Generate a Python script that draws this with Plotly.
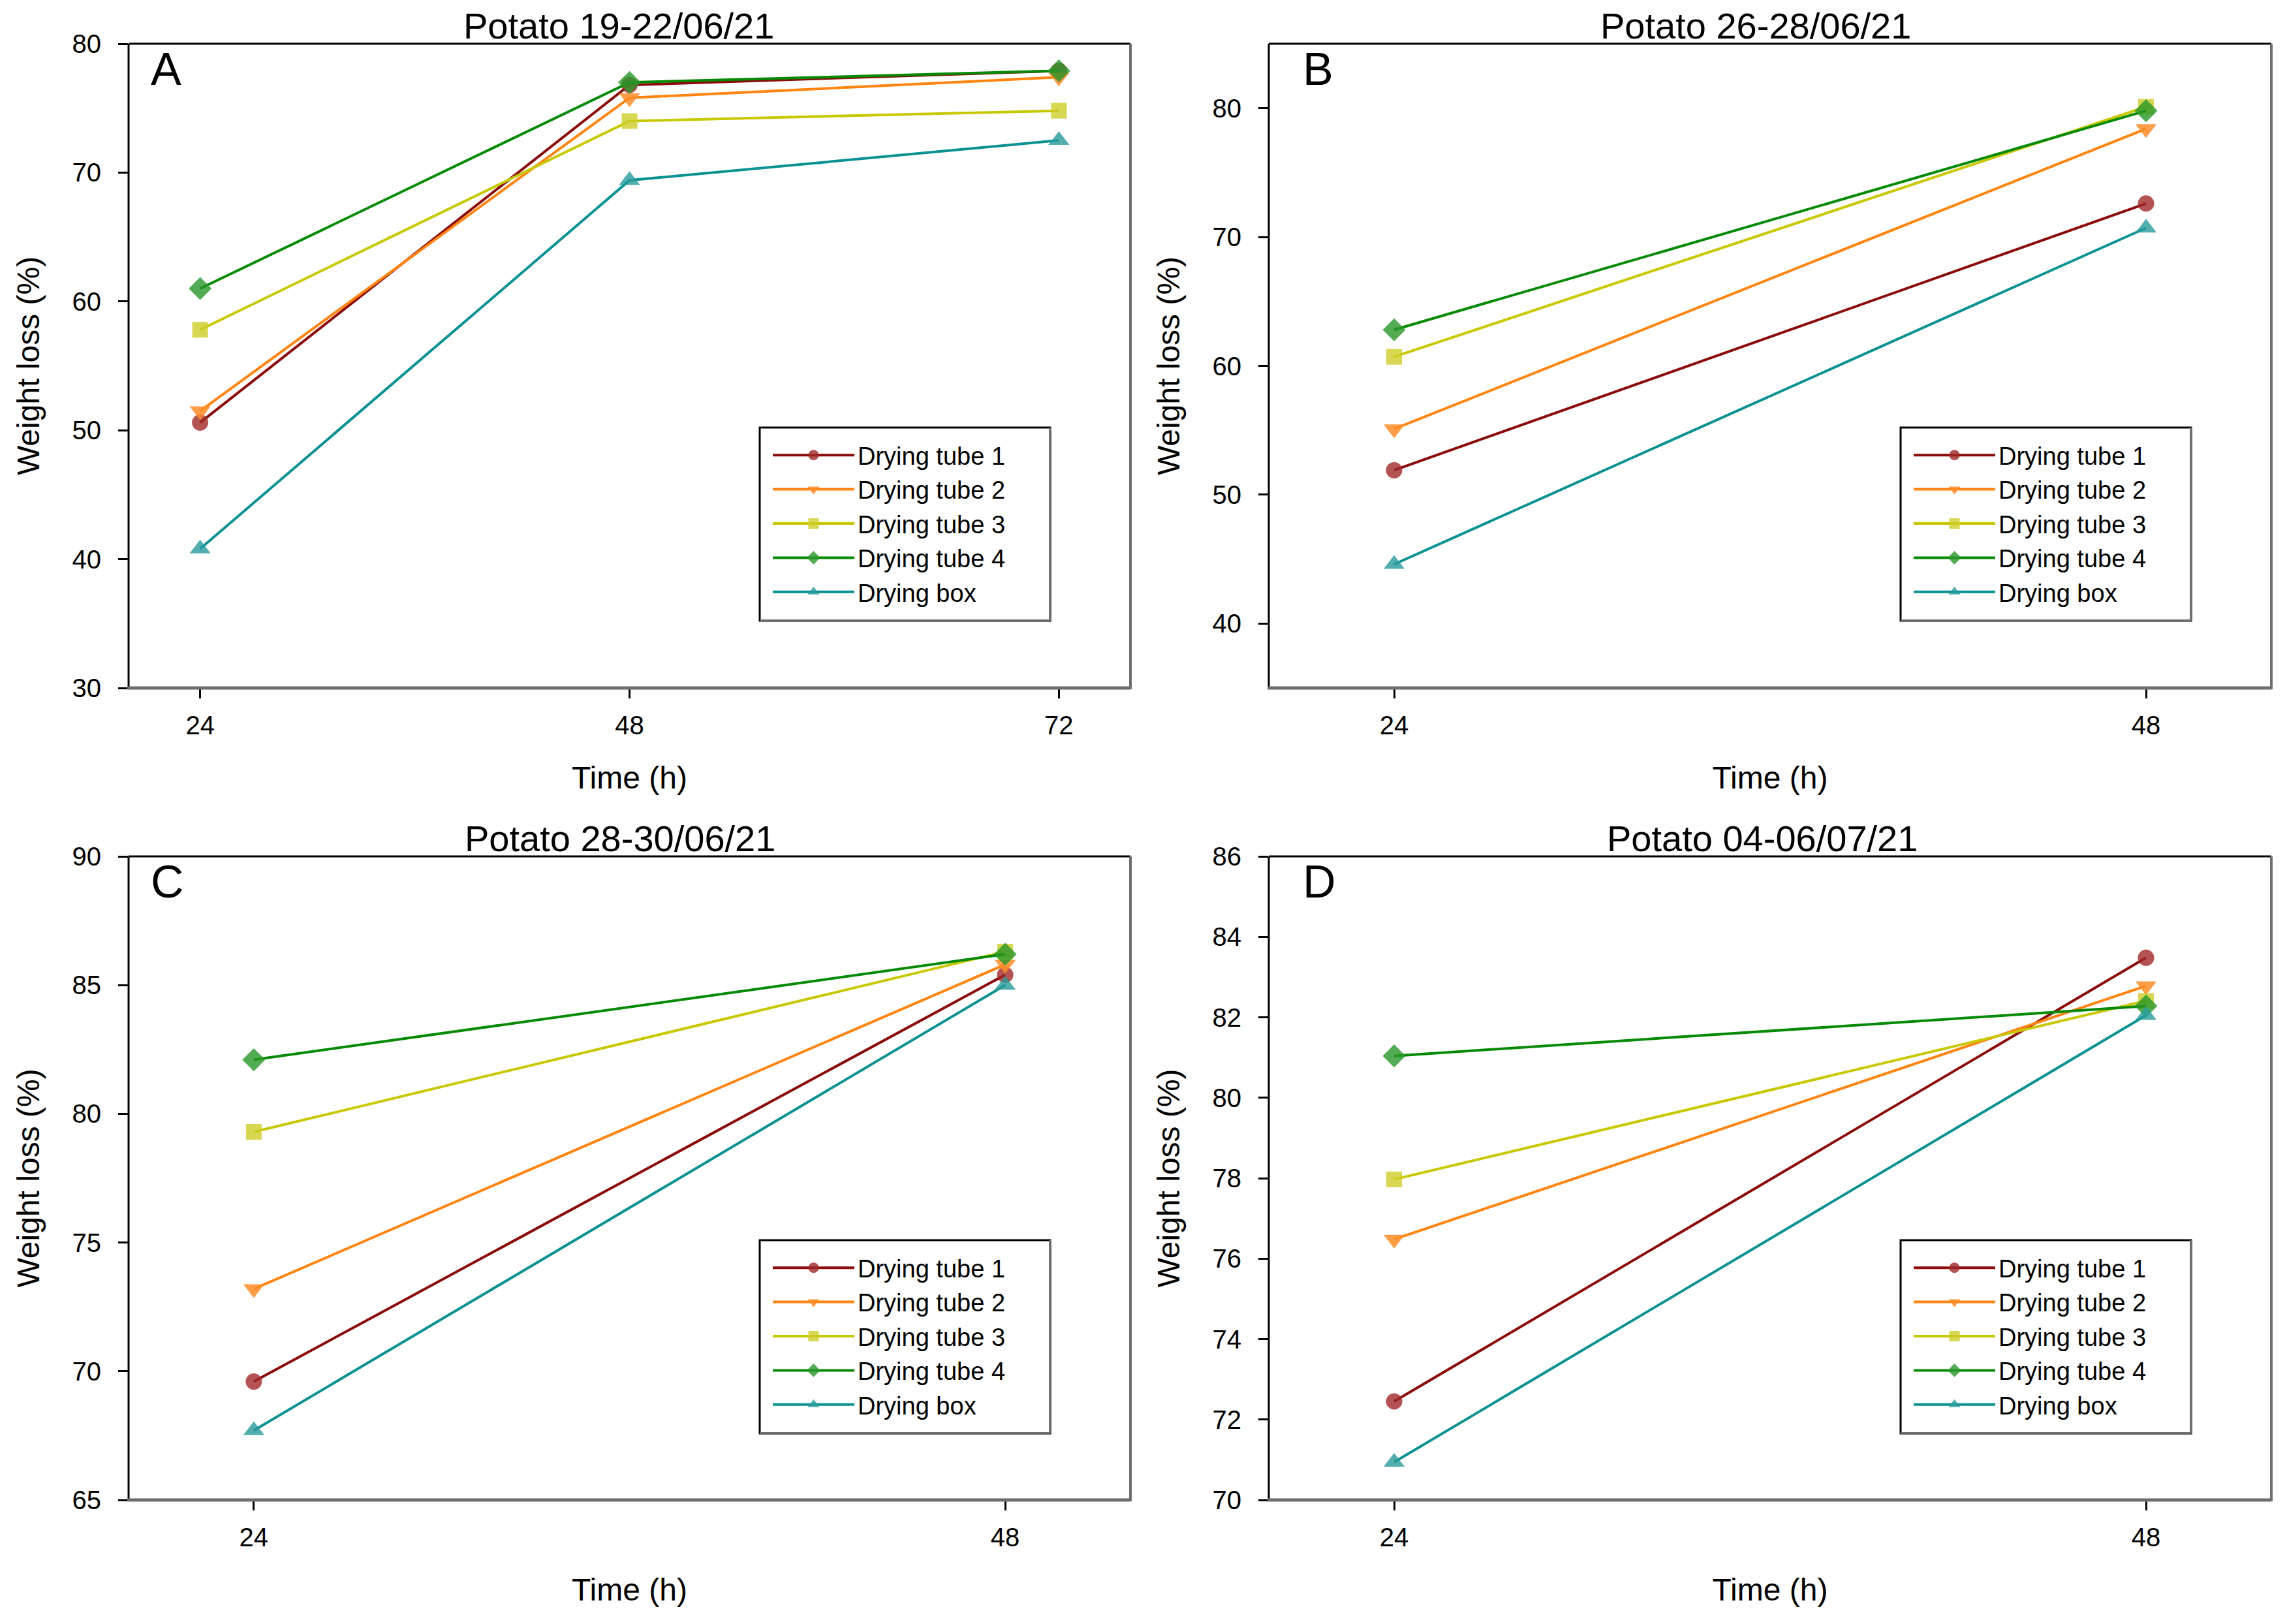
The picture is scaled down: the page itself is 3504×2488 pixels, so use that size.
import plotly.graph_objects as go

# ---------------- data ----------------
series_names = ["Drying tube 1", "Drying tube 2", "Drying tube 3", "Drying tube 4", "Drying box"]

times_a = [24, 48, 72]
times_bcd = [24, 48]

panel_a_values = [
    [50.6, 76.8, 77.9],
    [51.5, 75.8, 77.4],
    [57.8, 74.0, 74.8],
    [61.0, 77.0, 77.9],
    [40.8, 69.4, 72.5],
]
panel_b_values = [
    [51.9, 72.6],
    [55.1, 78.4],
    [60.7, 80.1],
    [62.8, 79.8],
    [44.6, 70.7],
]
panel_c_values = [
    [69.6, 85.4],
    [73.2, 85.8],
    [79.3, 86.3],
    [82.1, 86.2],
    [67.7, 85.0],
]
panel_d_values = [
    [72.45, 83.48],
    [76.48, 82.78],
    [77.97, 82.41],
    [81.04, 82.28],
    [70.94, 82.05],
]

panel_titles = ["Potato 19-22/06/21", "Potato 26-28/06/21", "Potato 28-30/06/21", "Potato 04-06/07/21"]
panel_letters = ["A", "B", "C", "D"]
x_tick_labels_a = ["24", "48", "72"]
x_tick_labels_bcd = ["24", "48"]

# ---------------- styling ----------------
W, H = 3504, 2488
OFF = 8  # page body margin of the html page
FONT = "Liberation Sans, Arial, Helvetica, sans-serif"
line_colors = ["#8b0a0a", "#ff8410", "#c8c800", "#058a05", "#0a9191"]
marker_colors = ["rgba(160,40,40,0.8)", "rgba(255,140,40,0.85)", "rgba(205,205,40,0.8)",
                 "rgba(40,150,40,0.8)", "rgba(40,155,155,0.8)"]
symbols = ["circle", "triangle-down", "square", "diamond", "triangle-up"]
marker_sizes = [25, 28, 24, 27, 28]

# plot areas in screen pixels: (left, right, top, bottom)
areas = [
    (197, 1732, 67, 1054),
    (1944, 3480, 67, 1054),
    (197, 1732, 1312, 2298),
    (1944, 3480, 1312, 2298),
]
legend_boxes = [
    (1164, 1609, 655, 951),
    (2912, 3357, 655, 951),
    (1164, 1609, 1900, 2196),
    (2912, 3357, 1900, 2196),
]
title_x = [948, 2690, 950, 2700]
letter_dx = [32, 50, 32, 50]

x_ranges = [[20, 76], [20, 52], [20, 52], [20, 52]]
y_ranges = [[30, 80], [35, 85], [65, 90], [70, 86]]
y_dticks = [10, 10, 5, 2]
y_tick0 = [30, 40, 65, 70]


def px(x):
    return (x - OFF) / W


def py(y):
    return 1 - (y - OFF) / H


fig = go.Figure()

panels = [
    (times_a, panel_a_values, x_tick_labels_a),
    (times_bcd, panel_b_values, x_tick_labels_bcd),
    (times_bcd, panel_c_values, x_tick_labels_bcd),
    (times_bcd, panel_d_values, x_tick_labels_bcd),
]

shapes = []
annotations = []
layout_axes = {}

for k, (times, values, xtl) in enumerate(panels):
    idx = "" if k == 0 else str(k + 1)
    leg = "legend" + idx
    for s, name in enumerate(series_names):
        fig.add_trace(go.Scatter(
            x=times, y=values[s], name=name, mode="lines+markers",
            xaxis="x" + idx, yaxis="y" + idx, legend=leg,
            line=dict(color=line_colors[s], width=4),
            marker=dict(symbol=symbols[s], size=marker_sizes[s], color=marker_colors[s],
                        line=dict(width=0)),
        ))
    l, r, t, b = areas[k]
    layout_axes["xaxis" + idx] = dict(
        domain=[px(l), px(r)], anchor="y" + idx, range=x_ranges[k],
        tickmode="array", tickvals=times, ticktext=xtl,
        ticks="outside", ticklen=15, tickwidth=3, tickcolor="black",
        showgrid=False, zeroline=False, showline=False, automargin=False,
        tickfont=dict(family=FONT, size=40, color="black"),
        ticklabelstandoff=7,
        title=dict(text="Time (h)", font=dict(family=FONT, size=48, color="black"), standoff=42),
    )
    layout_axes["yaxis" + idx] = dict(
        domain=[py(b), py(t)], anchor="x" + idx, range=y_ranges[k],
        tick0=y_tick0[k], dtick=y_dticks[k],
        ticks="outside", ticklen=15, tickwidth=3, tickcolor="black",
        showgrid=False, zeroline=False, showline=False, automargin=False,
        tickfont=dict(family=FONT, size=40, color="black"),
        ticklabelstandoff=18,
        title=dict(text="Weight loss (%)", font=dict(family=FONT, size=48, color="black"), standoff=34),
    )
    # frame: top/left black, bottom/right grey
    shapes += [
        dict(type="line", xref="paper", yref="paper", x0=px(l), x1=px(r), y0=py(t), y1=py(t),
             line=dict(color="black", width=3)),
        dict(type="line", xref="paper", yref="paper", x0=px(l), x1=px(l), y0=py(t), y1=py(b),
             line=dict(color="black", width=3)),
        dict(type="line", xref="paper", yref="paper", x0=px(l - 2), x1=px(r), y0=py(b), y1=py(b),
             line=dict(color="#6e6e6e", width=5)),
        dict(type="line", xref="paper", yref="paper", x0=px(r), x1=px(r), y0=py(t), y1=py(b + 2),
             line=dict(color="#6e6e6e", width=4)),
    ]
    # legend box
    bl, br, bt, bb = legend_boxes[k]
    shapes += [
        dict(type="rect", xref="paper", yref="paper", x0=px(bl), x1=px(br), y0=py(bb), y1=py(bt),
             line=dict(color="black", width=3), fillcolor="white", layer="below"),
        dict(type="line", xref="paper", yref="paper", x0=px(bl), x1=px(br), y0=py(bb), y1=py(bb),
             line=dict(color="#6e6e6e", width=4)),
        dict(type="line", xref="paper", yref="paper", x0=px(br), x1=px(br), y0=py(bt), y1=py(bb),
             line=dict(color="#6e6e6e", width=4)),
    ]
    layout_axes[leg] = dict(
        x=px(bl + 15), y=py(bt + 11), xanchor="left", yanchor="top",
        bgcolor="rgba(0,0,0,0)", borderwidth=0, itemwidth=125,
        font=dict(family=FONT, size=38, color="black"),
        tracegroupgap=0,
    )
    # title
    annotations.append(dict(
        text=panel_titles[k], x=px(title_x[k]), y=py(t - 27), xref="paper", yref="paper",
        xanchor="center", yanchor="middle", showarrow=False,
        font=dict(family=FONT, size=56, color="black"),
    ))
    # panel letter
    annotations.append(dict(
        text=panel_letters[k], x=px(l + letter_dx[k]), y=py(t - 2), xref="paper", yref="paper",
        xanchor="left", yanchor="top", showarrow=False,
        font=dict(family=FONT, size=70, color="black"),
    ))

fig.update_layout(
    width=W, height=H,
    margin=dict(l=0, r=0, t=0, b=0, autoexpand=False),
    paper_bgcolor="white", plot_bgcolor="white",
    font=dict(family=FONT, color="black"),
    shapes=shapes, annotations=annotations,
    **layout_axes,
)

fig.write_html("out.html")
